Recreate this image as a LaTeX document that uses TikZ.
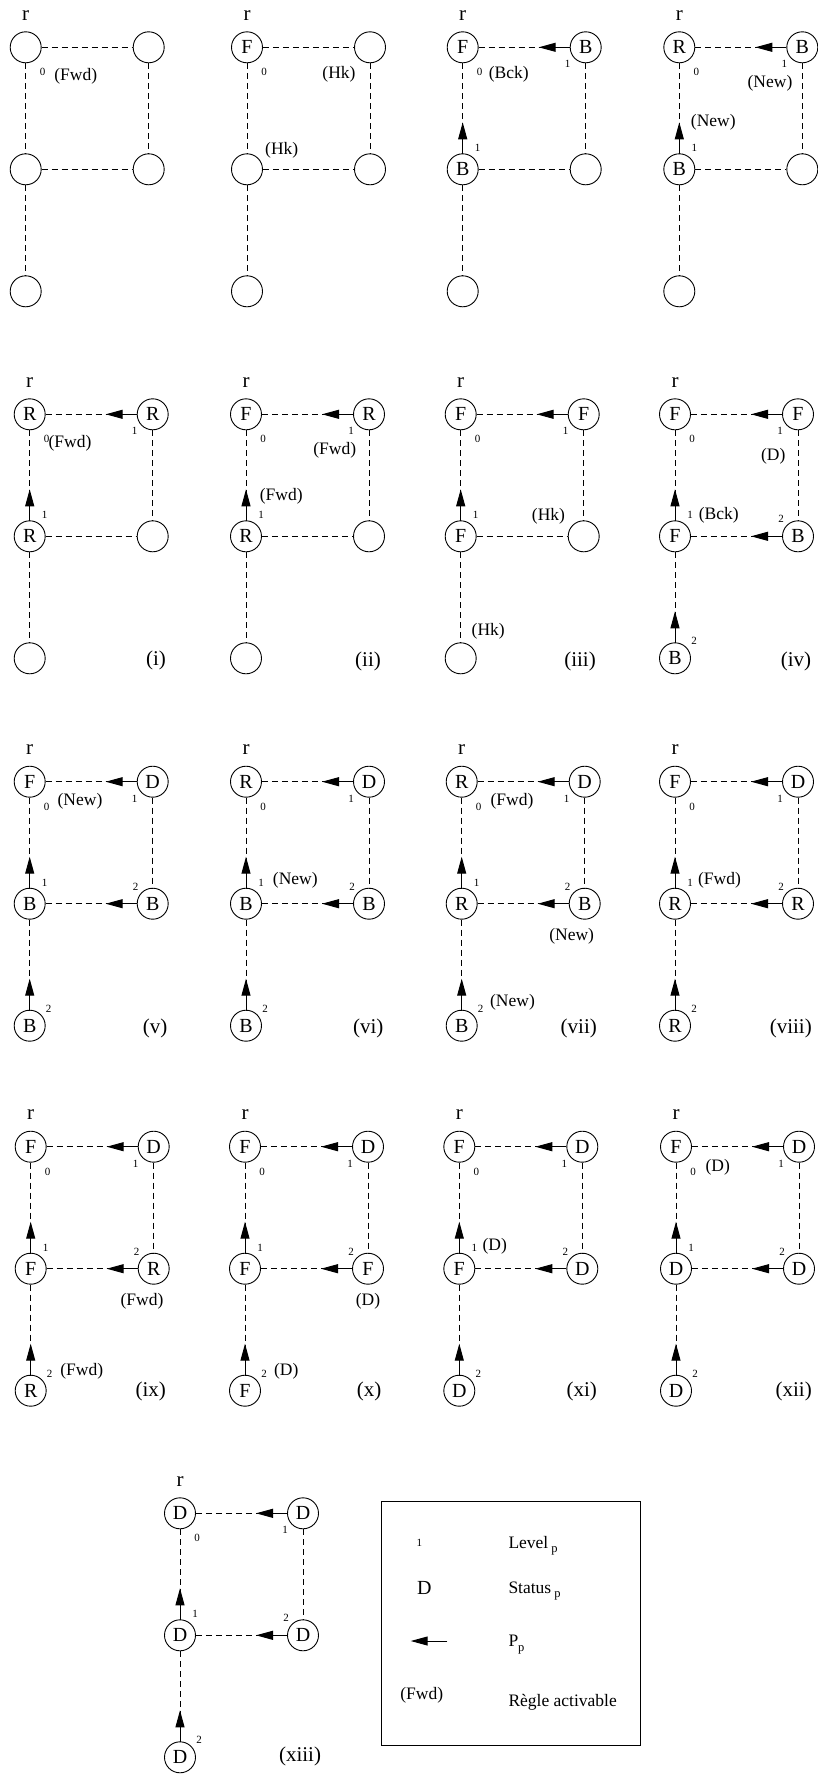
\documentclass[tikz,border=0pt]{standalone}
\usepackage{fontspec}
\setmainfont{Liberation Serif}
\usetikzlibrary{calc,arrows.meta}
\tikzset{
  st/.style={circle,draw,line width=0.9pt,minimum size=31pt,inner sep=0pt,font=\fontsize{20}{20}\selectfont},
  dl/.style={dash pattern=on 6pt off 4pt,line width=0.8pt},
  ptr/.style={line width=1pt,-{Triangle[length=17pt,width=9pt]}},
  lev/.style={font=\fontsize{11}{11}\selectfont,inner sep=0pt},
  rule/.style={font=\fontsize{17.5}{17.5}\selectfont,inner sep=0pt},
  plab/.style={font=\fontsize{21}{21}\selectfont,inner sep=0pt},
  rlab/.style={font=\fontsize{21}{21}\selectfont,inner sep=0pt},
}
% prefix, x, y, TL, TR, ML, MR, BL
\newcommand\grid[8]{%
\begin{scope}[shift={(#2,#3)}]
\node[st] (#1a) at (0,0) {#4};
\node[st] (#1b) at (123,0) {#5};
\node[st] (#1c) at (0,122) {#6};
\node[st] (#1d) at (123,122) {#7};
\node[st] (#1e) at (0,244) {#8};
\node[rlab] (#1r) at (0,-32) {r};
\draw[dl] (#1a) -- (#1b);
\draw[dl] (#1a) -- (#1c);
\draw[dl] (#1b) -- (#1d);
\draw[dl] (#1c) -- (#1d);
\draw[dl] (#1c) -- (#1e);
\end{scope}}
\newcommand\ptrto[2]{\draw[ptr] (#1) -- ($(#1)!47pt!(#2)$);}
\newcommand\ptrstwo[1]{\ptrto{#1b}{#1a}\ptrto{#1c}{#1a}}
\newcommand\ptrsfour[1]{\ptrstwo{#1}\ptrto{#1d}{#1c}\ptrto{#1e}{#1c}}
\newcommand\levzero[1]{\node[lev] (#1la) at ($(#1a)+(17,25)$) {0};}
\newcommand\levthree[1]{\levzero{#1}%
\node[lev] (#1lb) at ($(#1b)+(-18,17)$) {1};%
\node[lev] (#1lc) at ($(#1c)+(15,-21)$) {1};}
\newcommand\levfive[1]{\levthree{#1}%
\node[lev] (#1ld) at ($(#1d)+(-17,-17)$) {2};%
\node[lev] (#1le) at ($(#1e)+(19,-17)$) {2};}
\begin{document}
\begin{tikzpicture}[x=1pt,y=-1pt]
\useasboundingbox (0,0) rectangle (817,1775);
% row 1
\grid{pa}{25.7}{47.3}{}{}{}{}{}
\levzero{pa}
\node[rule] (pa1) at (75.8,76) {(Fwd)};

\grid{pb}{247}{47.3}{F}{}{}{}{}
\levzero{pb}
\node[rule] (pb1) at (339,74) {(Hk)};
\node[rule] (pb2) at (281.7,150) {(Hk)};

\grid{pc}{462.7}{47.3}{F}{B}{B}{}{}
\ptrstwo{pc}\levthree{pc}
\node[rule] (pc1) at (508.8,74) {(Bck)};

\grid{pd}{679.3}{47.3}{R}{B}{B}{}{}
\ptrstwo{pd}\levthree{pd}
\node[rule] (pd1) at (770,83.3) {(New)};
\node[rule] (pd2) at (713.3,122.3) {(New)};

% row 2
\grid{pe}{29.7}{414.3}{R}{R}{R}{}{}
\ptrstwo{pe}\levthree{pe}
\node[rule] (pe1) at (70,443.3) {(Fwd)};
\node[plab] (pel) at (156,660) {(i)};

\grid{pf}{246}{414.3}{F}{R}{R}{}{}
\ptrstwo{pf}\levthree{pf}
\node[rule] (pf1) at (334.7,450.7) {(Fwd)};
\node[rule] (pf2) at (281.3,496.7) {(Fwd)};
\node[plab] (pfl) at (368,661) {(ii)};

\grid{pg}{460.7}{414.3}{F}{F}{F}{}{}
\ptrstwo{pg}\levthree{pg}
\node[rule] (pg1) at (548.5,516.7) {(Hk)};
\node[rule] (pg2) at (488.2,631.7) {(Hk)};
\node[plab] (pgl) at (580,661) {(iii)};

\grid{ph}{675}{414.3}{F}{F}{F}{B}{B}
\ptrsfour{ph}\levfive{ph}
\node[rule] (ph1) at (773.3,456.7) {(D)};
\node[rule] (ph2) at (718.8,515.7) {(Bck)};
\node[plab] (phl) at (796,661) {(iv)};

% row 3
\grid{pi}{29.7}{781.7}{F}{D}{B}{B}{B}
\ptrsfour{pi}\levfive{pi}
\node[rule] (pi1) at (80,801) {(New)};
\node[plab] (pil) at (155,1028) {(v)};

\grid{pj}{246}{781.7}{R}{D}{B}{B}{B}
\ptrsfour{pj}\levfive{pj}
\node[rule] (pj1) at (295.3,880.7) {(New)};
\node[plab] (pjl) at (368.3,1028) {(vi)};

\grid{pk}{461.7}{781.7}{R}{D}{R}{B}{B}
\ptrsfour{pk}\levfive{pk}
\node[rule] (pk1) at (512,801) {(Fwd)};
\node[rule] (pk2) at (571.7,936.7) {(New)};
\node[rule] (pk3) at (512.5,1002.3) {(New)};
\node[plab] (pkl) at (578.8,1028) {(vii)};

\grid{pl}{675}{781.7}{F}{D}{R}{R}{R}
\ptrsfour{pl}\levfive{pl}
\node[rule] (pl1) at (719.5,880) {(Fwd)};
\node[plab] (pll) at (790.8,1028) {(viii)};

% row 4
\grid{pm}{30.7}{1146.7}{F}{D}{F}{R}{R}
\ptrsfour{pm}\levfive{pm}
\node[rule] (pm1) at (142,1301) {(Fwd)};
\node[rule] (pm2) at (81.7,1371) {(Fwd)};
\node[plab] (pml) at (150.7,1391.7) {(ix)};

\grid{pn}{245}{1146.7}{F}{D}{F}{F}{F}
\ptrsfour{pn}\levfive{pn}
\node[rule] (pn1) at (368,1301) {(D)};
\node[rule] (pn2) at (286.3,1371) {(D)};
\node[plab] (pnl) at (369,1391.7) {(x)};

\grid{po}{459.3}{1146.7}{F}{D}{F}{D}{D}
\ptrsfour{po}\levfive{po}
\node[rule] (po1) at (494.7,1246) {(D)};
\node[plab] (pol) at (581.7,1391.7) {(xi)};

\grid{pp}{676}{1146.7}{F}{D}{D}{D}{D}
\ptrsfour{pp}\levfive{pp}
\node[rule] (pp1) at (717.7,1167.7) {(D)};
\node[plab] (ppl) at (793.7,1391.7) {(xii)};

% row 5
\grid{pq}{180}{1513.3}{D}{D}{D}{D}{D}
\ptrsfour{pq}\levfive{pq}
\node[plab] (pql) at (300,1756.7) {(xiii)};

% legend
\node[draw,line width=0.9pt,minimum width=259.3pt,minimum height=244.3pt,anchor=north west,inner sep=0pt] (leg) at (380.7,1500.7) {};
\node[lev] (lg1) at (419.3,1543.3) {1};
\node[font=\fontsize{20}{20}\selectfont,inner sep=0pt] (lgD) at (424.3,1588.3) {D};
\coordinate (lgA) at (447.3,1641);
\coordinate (lgB) at (410.7,1641);
\draw[ptr] (lgA) -- (lgB);
\node[rule] (lgF) at (421.7,1695) {(Fwd)};
\node[rule,anchor=base west] (lt1) at (508.3,1548.3) {Level\hspace{3pt}\raisebox{-4pt}{\fontsize{12.5}{12.5}\selectfont p}};
\node[rule,anchor=base west] (lt2) at (508.3,1593.3) {Status\hspace{3pt}\raisebox{-4pt}{\fontsize{12.5}{12.5}\selectfont p}};
\node[rule,anchor=base west] (lt3) at (508.3,1646.7) {P\raisebox{-5pt}{\fontsize{12.5}{12.5}\selectfont p}};
\node[rule,anchor=base west] (lt4) at (508.3,1706.7) {Règle activable};
\end{tikzpicture}
\end{document}
